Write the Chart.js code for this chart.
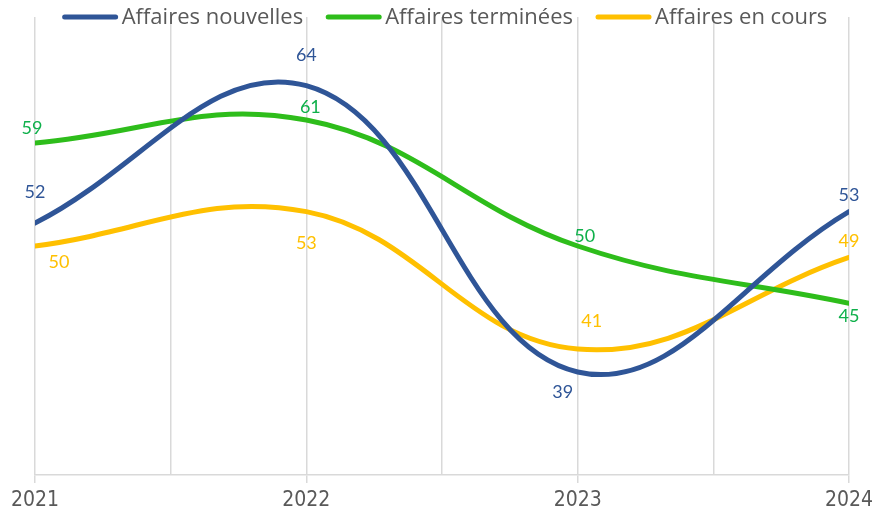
<!DOCTYPE html>
<html lang="fr">
<head>
  <meta charset="UTF-8" />
  <title>Affaires</title>
  <script src="https://cdn.jsdelivr.net/npm/chart.js"></script>
  <style>
    html, body { margin: 0; padding: 0; background: #fff; }
    #wrap { width: 875px; height: 516px; }
  </style>
</head>
<body>
<div id="wrap"><canvas id="chart"></canvas></div>

<script>
  // data
  const years = [2021, 2022, 2023, 2024];
  const nouvelles = [52, 64, 39, 53];
  const terminees = [59, 61, 50, 45];
  const enCours = [50, 53, 41, 49];

  const BLUE = '#2F5597';
  const GREEN = '#2EBD1B';
  const GREEN_TXT = '#0FB04B';
  const YELLOW = '#FFC000';
  const GRID = '#d9d9d9';
  const TXT = '#595959';

  const toXY = vals => vals.map((v, i) => ({ x: years[i], y: v }));

  // data label offsets (dx, dy) relative to each point
  const labelOffsets = [
    [[0, -31], [0, -31], [-15, 20], [0, -16]],
    [[-3, -15], [4, -13], [7, -10], [0, 13]],
    [[24, 16], [0, 32], [14, -28], [0, -16]]
  ];

  const dataLabels = {
    id: 'dataLabels',
    afterDatasetsDraw(chart) {
      const ctx = chart.ctx;
      ctx.save();
      ctx.font = '18px Lato';
      ctx.textAlign = 'center';
      ctx.textBaseline = 'middle';
      chart.data.datasets.forEach((ds, di) => {
        const meta = chart.getDatasetMeta(di);
        meta.data.forEach((pt, i) => {
          const off = labelOffsets[di][i];
          ctx.fillStyle = ds.labelColor;
          ctx.fillText(ds.data[i].y, pt.x + off[0], pt.y + off[1]);
        });
      });
      ctx.restore();
    }
  };

  const topLegend = {
    id: 'topLegend',
    afterDraw(chart) {
      const ctx = chart.ctx;
      ctx.save();
      ctx.font = '22px "Open Sans"';
      ctx.textBaseline = 'middle';
      const lineW = 55, gap = 4, itemGap = 23, y = 17;
      const items = chart.data.datasets.map(ds => ({
        text: ds.label, color: ds.borderColor, w: ctx.measureText(ds.label).width
      }));
      const total = items.reduce((s, it) => s + lineW + gap + it.w, 0) + itemGap * (items.length - 1);
      let x = 445 - total / 2;
      items.forEach(it => {
        ctx.strokeStyle = it.color;
        ctx.lineWidth = 5;
        ctx.lineCap = 'round';
        ctx.beginPath();
        ctx.moveTo(x + 2, y);
        ctx.lineTo(x + lineW - 2, y);
        ctx.stroke();
        ctx.fillStyle = TXT;
        ctx.fillText(it.text, x + lineW + gap, y + 1);
        x += lineW + gap + it.w + itemGap;
      });
      ctx.restore();
    }
  };

  new Chart(document.getElementById('chart'), {
    type: 'line',
    data: {
      datasets: [
        { label: 'Affaires nouvelles', data: toXY(nouvelles), borderColor: BLUE, labelColor: BLUE },
        { label: 'Affaires terminées', data: toXY(terminees), borderColor: GREEN, labelColor: GREEN_TXT },
        { label: 'Affaires en cours', data: toXY(enCours), borderColor: YELLOW, labelColor: YELLOW }
      ]
    },
    options: {
      responsive: true,
      maintainAspectRatio: false,
      animation: false,
      layout: { padding: { left: 35, right: 26, top: 17, bottom: 0 } },
      elements: {
        line: { borderWidth: 5, tension: 0.4, fill: false, borderCapStyle: 'round' },
        point: { radius: 0, hoverRadius: 0 }
      },
      plugins: {
        legend: { display: false },
        tooltip: { enabled: false }
      },
      scales: {
        x: {
          type: 'linear',
          min: 2021,
          max: 2024,
          afterFit(scale) { scale.height = 41; scale.paddingRight = 0; scale.paddingLeft = 0; },
          afterBuildTicks(scale) {
            scale.ticks = [];
            for (let v = 2021; v <= 2024; v += 0.5) scale.ticks.push({ value: v });
          },
          ticks: {
            autoSkip: false,
            maxRotation: 0,
            padding: 5,
            color: TXT,
            font: { family: '"DejaVu Sans Condensed", "Liberation Sans Narrow", "Liberation Sans", sans-serif', size: 21 },
            callback: v => Number.isInteger(v) ? String(v) : ''
          },
          grid: {
            color: GRID,
            lineWidth: 1.5,
            tickLength: 8,
            tickColor: c => Number.isInteger(c.tick.value) ? GRID : 'rgba(0,0,0,0)'
          },
          border: { color: GRID, width: 1.5 }
        },
        y: {
          display: false,
          min: 30,
          max: 70
        }
      }
    },
    plugins: [dataLabels, topLegend]
  });
</script>
</body>
</html>
